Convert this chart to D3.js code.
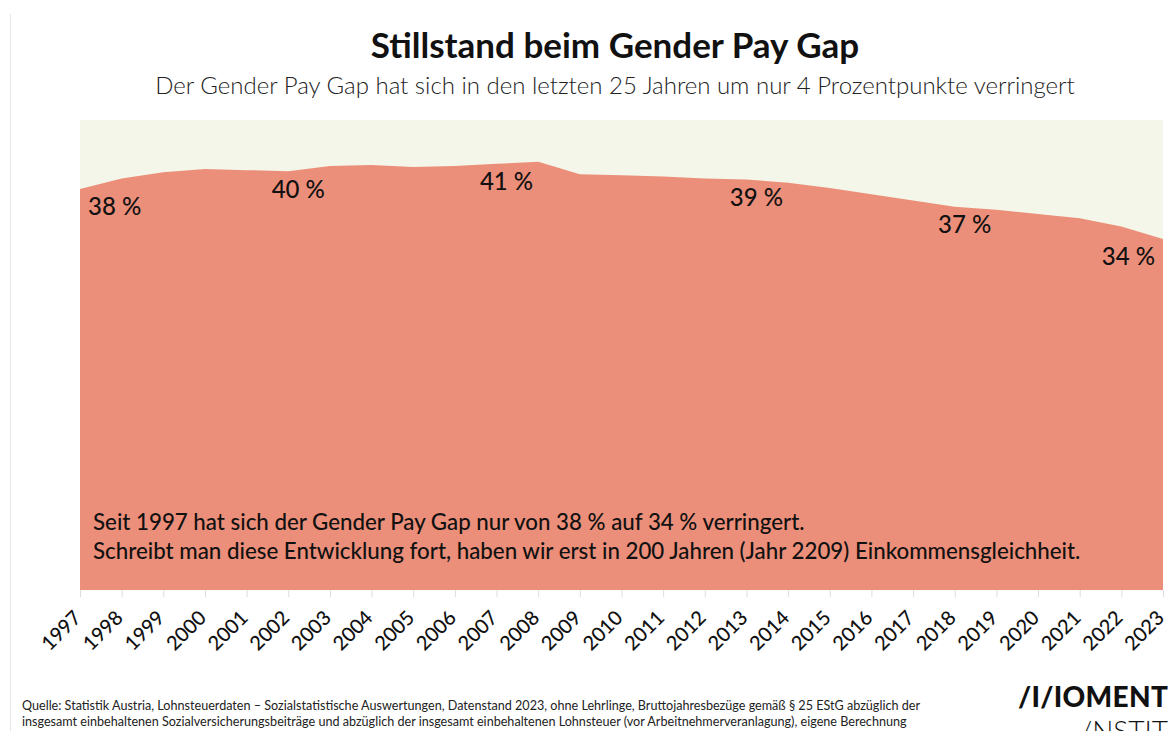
<!DOCTYPE html>
<html>
<head>
<meta charset="utf-8">
<script src="https://cdn.jsdelivr.net/npm/d3@7"></script>
<style>
  body { margin: 0; background: #fff; }
  svg { display: block; font-family: Lato, "Noto Sans", sans-serif; }
</style>
</head>
<body>
<div class="chart-container"></div>
<script>
(function() {
  ////////////////////////////////////////////////////////////
  //// Data //////////////////////////////////////////////////
  ////////////////////////////////////////////////////////////
  const years = d3.range(1997, 2024);
  const gapValues = [
    38.4, 39.4, 40.0, 40.3, 40.2, 40.1, 40.6, 40.7, 40.5, 40.6, 40.8, 41.0,
    39.8, 39.7, 39.6, 39.4, 39.3, 39.0, 38.5, 37.9, 37.3, 36.7, 36.4, 36.0,
    35.6, 34.8, 33.6
  ];
  const labelYears = [1997, 2002, 2007, 2013, 2018, 2023];
  const yDomain = [0, 45];

  const title = "Stillstand beim Gender Pay Gap";
  const subtitle =
    "Der Gender Pay Gap hat sich in den letzten 25 Jahren um nur 4 Prozentpunkte verringert";
  const noteLines = [
    "Seit 1997 hat sich der Gender Pay Gap nur von 38 % auf 34 % verringert.",
    "Schreibt man diese Entwicklung fort, haben wir erst in 200 Jahren (Jahr 2209) Einkommensgleichheit."
  ];
  const sourceLines = [
    "Quelle: Statistik Austria, Lohnsteuerdaten – Sozialstatistische Auswertungen, Datenstand 2023, ohne Lehrlinge, Bruttojahresbezüge gemäß § 25 EStG abzüglich der",
    "insgesamt einbehaltenen Sozialversicherungsbeiträge und abzüglich der insgesamt einbehaltenen Lohnsteuer (vor Arbeitnehmerveranlagung), eigene Berechnung"
  ];

  const data = years.map((year, i) => ({ year, value: gapValues[i] }));

  ////////////////////////////////////////////////////////////
  //// Chart /////////////////////////////////////////////////
  ////////////////////////////////////////////////////////////
  const chartWidth = 1168;
  const chartHeight = 731;
  const plot = { left: 80, right: 1163, top: 120, bottom: 590 };

  const areaColor = "#ec8f7a";
  const bgColor = "#f4f6ea";

  const xScale = d3
    .scaleLinear()
    .domain(d3.extent(years))
    .range([plot.left, plot.right]);

  const yScale = d3
    .scaleLinear()
    .domain(yDomain)
    .range([plot.bottom, plot.top]);

  const svg = d3
    .select(".chart-container")
    .append("svg")
    .attr("width", chartWidth)
    .attr("height", chartHeight)
    .attr("viewBox", [0, 0, chartWidth, chartHeight]);

  // page edge line
  svg
    .append("line")
    .attr("x1", 10.5)
    .attr("x2", 10.5)
    .attr("y1", 14)
    .attr("y2", chartHeight)
    .attr("stroke", "#e6e6e6");

  // titles
  svg
    .append("text")
    .attr("x", 615)
    .attr("y", 58)
    .attr("text-anchor", "middle")
    .attr("font-size", 35)
    .attr("font-weight", 700)
    .attr("fill", "#111")
    .text(title);

  svg
    .append("text")
    .attr("x", 615)
    .attr("y", 94)
    .attr("text-anchor", "middle")
    .attr("font-size", 24)
    .attr("font-weight", 300)
    .attr("fill", "#222")
    .text(subtitle);

  // background band
  svg
    .append("rect")
    .attr("x", xScale(years[0]))
    .attr("y", yScale(yDomain[1]))
    .attr("width", xScale(years[years.length - 1]) - xScale(years[0]))
    .attr("height", yScale(yDomain[0]) - yScale(yDomain[1]))
    .attr("fill", bgColor);

  const area = d3
    .area()
    .x(d => xScale(d.year))
    .y0(yScale(0))
    .y1(d => yScale(d.value));

  svg
    .append("path")
    .datum(data)
    .attr("d", area)
    .attr("fill", areaColor);

  // value labels
  svg
    .append("g")
    .attr("class", "value-labels")
    .selectAll("text")
    .data(data.filter(d => labelYears.includes(d.year)))
    .join("text")
    .attr("x", (d, i, n) =>
      i === 0 ? xScale(d.year) + 8 : i === n.length - 1 ? xScale(d.year) - 8 : xScale(d.year) + 10
    )
    .attr("y", d => yScale(d.value) + 18)
    .attr("dy", "0.35em")
    .attr("text-anchor", (d, i, n) =>
      i === 0 ? "start" : i === n.length - 1 ? "end" : "middle"
    )
    .attr("font-size", 24)
    .attr("font-weight", 500)
    .attr("fill", "#111")
    .text(d => `${Math.round(d.value)} %`);

  // note
  svg
    .append("g")
    .attr("class", "note")
    .selectAll("text")
    .data(noteLines)
    .join("text")
    .attr("x", 93)
    .attr("y", (d, i) => 530 + i * 29)
    .attr("font-size", 22.3)
    .attr("font-weight", 500)
    .attr("fill", "#111")
    .text(d => d);

  // x axis
  const xAxis = svg
    .append("g")
    .attr("class", "x axis")
    .attr("transform", `translate(0,${plot.bottom})`)
    .call(
      d3
        .axisBottom(xScale)
        .tickValues(years)
        .tickFormat(d3.format("d"))
        .tickSize(7)
    );
  xAxis.select(".domain").remove();
  xAxis.selectAll(".tick line").attr("stroke", "#dddddd");
  xAxis
    .selectAll(".tick text")
    .attr("fill", "#111")
    .attr("font-size", 20)
    .attr("font-weight", 500)
    .attr("font-family", "Lato, sans-serif")
    .attr("text-anchor", "end")
    .attr("x", 0)
    .attr("y", 0)
    .attr("dy", 0)
    .attr("transform", "translate(2,29) rotate(-45)");

  // source
  svg
    .append("g")
    .attr("class", "source")
    .selectAll("text")
    .data(sourceLines)
    .join("text")
    .attr("x", 22)
    .attr("y", (d, i) => 710 + i * 16)
    .attr("font-size", 12.6)
    .attr("font-weight", 400)
    .attr("fill", "#222")
    .text(d => d);

  // logo
  const logo = svg.append("g").attr("class", "logo").attr("fill", "#111");
  logo
    .append("text")
    .attr("x", 1018)
    .attr("y", 707)
    .attr("font-size", 28)
    .attr("font-weight", 900)
    .attr("letter-spacing", 0.3)
    .text("/I/IOMENT");
  logo
    .append("text")
    .attr("x", 1080)
    .attr("y", 741)
    .attr("font-size", 28)
    .attr("font-weight", 300)
    .text("/NSTITUT");
})();
</script>
</body>
</html>
